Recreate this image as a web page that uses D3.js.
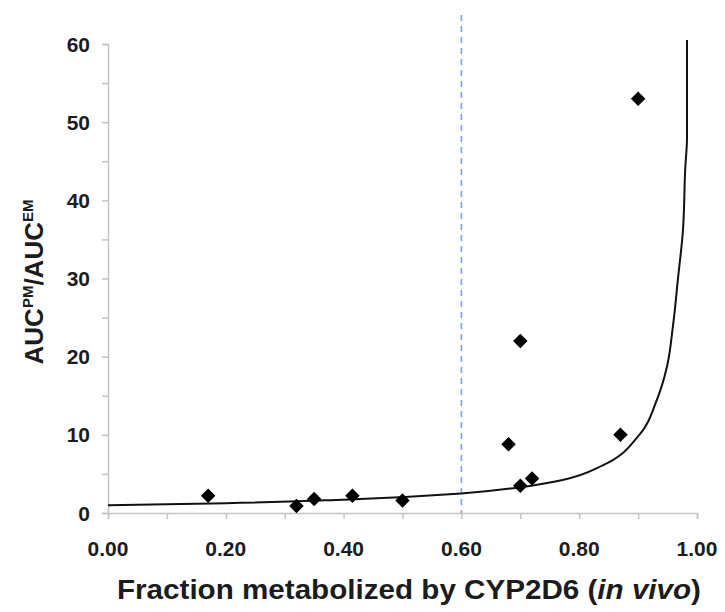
<!DOCTYPE html>
<html>
<head>
<meta charset="utf-8">
<script src="https://cdn.jsdelivr.net/npm/d3@7/dist/d3.min.js"></script>
<style>
  body { margin: 0; background: #fff; }
  svg { display: block; font-family: "Liberation Sans", Arial, sans-serif; }
</style>
</head>
<body>
<svg id="chart" width="725" height="612"></svg>
<script>
// observed drugs: fm (CYP2D6, in vivo) vs AUC ratio PM/EM
var obsFm = [0.17, 0.32, 0.35, 0.415, 0.50, 0.68, 0.70, 0.70, 0.72, 0.87, 0.90];
var obsRatio = [2.2, 0.9, 1.8, 2.2, 1.6, 8.8, 22, 3.5, 4.4, 10, 53];

// predicted curve
var curveFm = [0, 0.2, 0.4, 0.6, 0.7, 0.77, 0.84, 0.9, 0.932, 0.949, 0.959, 0.968, 0.976, 0.98, 0.983, 0.983];
var curveRatio = [1, 1.25, 1.7, 2.5, 3.3, 4.2, 6.1, 9.8, 14.5, 18.7, 23.8, 30.2, 36, 44, 48, 60.5];

var xTicks = [0, 0.2, 0.4, 0.6, 0.8, 1.0];
var xMinor = [0, 0.1, 0.2, 0.3, 0.4, 0.5, 0.6, 0.7, 0.8, 0.9, 1.0];
var yTicks = [0, 10, 20, 30, 40, 50, 60];
var yMinor = [0, 5, 10, 15, 20, 25, 30, 35, 40, 45, 50, 55, 60];
var cutoff = 0.6;

var svg = d3.select('#chart');
var x = d3.scaleLinear().domain([0, 1]).range([108, 697]);
var y = d3.scaleLinear().domain([0, 60]).range([513, 44]);

var axisColor = '#c4c4c4';
var textColor = '#1c1c1c';

// x axis
var gx = svg.append('g').attr('transform', 'translate(0,' + y(0) + ')');
gx.call(d3.axisBottom(x).tickValues(xMinor).tickSize(6).tickFormat(''));
gx.select('.domain').attr('stroke', axisColor).attr('stroke-width', 1.5);
gx.selectAll('.tick line').attr('stroke', axisColor).attr('stroke-width', 1.5);

svg.append('g').selectAll('text')
    .data(xTicks).enter().append('text')
    .attr('x', function(d) { return x(d); })
    .attr('y', 556)
    .attr('text-anchor', 'middle')
    .attr('font-size', '21px')
    .attr('font-weight', 'bold')
    .attr('fill', textColor)
    .text(function(d) { return d.toFixed(2); });

// y axis
var gy = svg.append('g').attr('transform', 'translate(' + x(0) + ',0)');
gy.call(d3.axisLeft(y).tickValues(yMinor).tickSize(6).tickFormat(''));
gy.select('.domain').attr('stroke', axisColor).attr('stroke-width', 1.5);
gy.selectAll('.tick line').attr('stroke', axisColor).attr('stroke-width', 1.5);

svg.append('g').selectAll('text')
    .data(yTicks).enter().append('text')
    .attr('x', 90)
    .attr('y', function(d) { return y(d) + 7.5; })
    .attr('text-anchor', 'end')
    .attr('font-size', '21px')
    .attr('font-weight', 'bold')
    .attr('fill', textColor)
    .text(function(d) { return d; });

// cutoff line
svg.append('line')
    .attr('x1', x(cutoff)).attr('x2', x(cutoff))
    .attr('y1', 15).attr('y2', y(0))
    .attr('stroke', '#7aa6d6')
    .attr('stroke-width', 1.6)
    .attr('stroke-dasharray', '6,5');

// curve
var line = d3.line()
    .x(function(d) { return x(d[0]); })
    .y(function(d) { return y(d[1]); })
    .curve(d3.curveMonotoneY);
svg.append('path')
    .datum(d3.zip(curveFm, curveRatio))
    .attr('d', line)
    .attr('fill', 'none')
    .attr('stroke', '#111')
    .attr('stroke-width', 2);

// points (rotated squares)
var diamond = d3.symbol().type(d3.symbolSquare).size(105);
svg.append('g').selectAll('path')
    .data(d3.zip(obsFm, obsRatio)).enter().append('path')
    .attr('d', diamond)
    .attr('transform', function(d) {
        return 'translate(' + x(d[0]) + ',' + y(d[1]) + ') rotate(45)';
    })
    .attr('fill', '#000');

// axis titles
var xt = svg.append('text')
    .attr('x', 409).attr('y', 599)
    .attr('text-anchor', 'middle')
    .attr('font-size', '27px')
    .attr('font-weight', 'bold')
    .attr('fill', textColor)
    .attr('textLength', 584)
    .attr('lengthAdjust', 'spacingAndGlyphs');
xt.append('tspan').text('Fraction metabolized by CYP2D6 (');
xt.append('tspan').attr('font-style', 'italic').text('in vivo');
xt.append('tspan').text(')');

var yt = svg.append('text')
    .attr('transform', 'translate(43,282) rotate(-90)')
    .attr('text-anchor', 'middle')
    .attr('font-size', '26px')
    .attr('font-weight', 'bold')
    .attr('fill', textColor);
yt.append('tspan').text('AUC');
yt.append('tspan').attr('font-size', '15px').attr('dy', -10).text('PM');
yt.append('tspan').attr('dy', 10).text('/AUC');
yt.append('tspan').attr('font-size', '15px').attr('dy', -10).text('EM');
</script>
</body>
</html>
